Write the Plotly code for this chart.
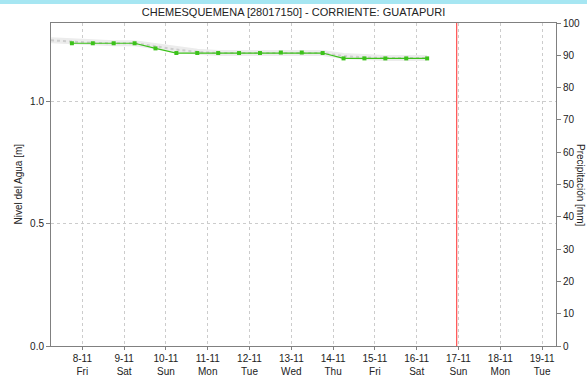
import plotly.graph_objects as go

# nivel observado (cada 12 h)
fechas = ["2024-11-07 18:00", "2024-11-08 06:00", "2024-11-08 18:00", "2024-11-09 06:00",
          "2024-11-09 18:00", "2024-11-10 06:00", "2024-11-10 18:00", "2024-11-11 06:00",
          "2024-11-11 18:00", "2024-11-12 06:00", "2024-11-12 18:00", "2024-11-13 06:00",
          "2024-11-13 18:00", "2024-11-14 06:00", "2024-11-14 18:00", "2024-11-15 06:00",
          "2024-11-15 18:00", "2024-11-16 06:00"]
nivel = [1.240, 1.240, 1.240, 1.240, 1.219, 1.200, 1.200, 1.200, 1.200,
         1.200, 1.202, 1.202, 1.200, 1.178, 1.178, 1.178, 1.178, 1.178]

# nivel de referencia (banda gris)
fechas_ref = ["2024-11-07 06:00"] + fechas
nivel_ref = [1.252, 1.246, 1.242, 1.240, 1.240, 1.228, 1.214, 1.205, 1.200, 1.200,
             1.200, 1.202, 1.202, 1.200, 1.188, 1.182, 1.180, 1.180, 1.180]

dias = ["2024-11-08", "2024-11-09", "2024-11-10", "2024-11-11", "2024-11-12", "2024-11-13",
        "2024-11-14", "2024-11-15", "2024-11-16", "2024-11-17", "2024-11-18", "2024-11-19"]
dias_txt = ["8-11<br>Fri", "9-11<br>Sat", "10-11<br>Sun", "11-11<br>Mon", "12-11<br>Tue",
            "13-11<br>Wed", "14-11<br>Thu", "15-11<br>Fri", "16-11<br>Sat", "17-11<br>Sun",
            "18-11<br>Mon", "19-11<br>Tue"]

ahora = "2024-11-16 23:00"
titulo = "CHEMESQUEMENA [28017150] - CORRIENTE: GUATAPURI"

fuente = "Liberation Sans"

fig = go.Figure()
fig.add_trace(go.Scatter(x=fechas_ref, y=nivel_ref, mode="lines",
                         line=dict(color="#ececec", width=6), hoverinfo="skip", showlegend=False))
fig.add_trace(go.Scatter(x=fechas_ref, y=nivel_ref, mode="lines",
                         line=dict(color="#cdcdcd", width=2, dash="dot"), showlegend=False))
fig.add_trace(go.Scatter(x=fechas, y=nivel, mode="lines+markers",
                         line=dict(color="#3cc21a", width=1.2),
                         marker=dict(color="#3cc21a", size=4, symbol="square"),
                         showlegend=False))
fig.add_trace(go.Scatter(x=[ahora, ahora], y=[0, 100], yaxis="y2", mode="lines",
                         line=dict(color="#ff2a2a", width=1), showlegend=False))

fig.update_layout(
    width=587, height=382,
    margin=dict(l=51, r=31, t=23, b=36),
    paper_bgcolor="white", plot_bgcolor="white",
    font=dict(family=fuente, size=10, color="#222222"),
    title=dict(text=titulo, x=0.5, xanchor="center", y=0.968, yanchor="middle",
               font=dict(family=fuente, size=11, color="#222222")),
    xaxis=dict(type="date", range=["2024-11-07 06:00", "2024-11-19 08:00"], automargin=False,
               tickvals=dias, ticktext=dias_txt, ticks="outside", ticklen=3,
               tickcolor="#808080",
               showgrid=True, gridcolor="#cccccc", griddash="dot", gridwidth=1,
               showline=True, linecolor="#808080", mirror=True, zeroline=False,
               tickfont=dict(size=10)),
    yaxis=dict(range=[0, 1.323], tickvals=[0, 0.5, 1.0], ticktext=["0.0", "0.5", "1.0"],
               automargin=False,
               ticks="outside", ticklen=4, tickcolor="#808080",
               showgrid=True, gridcolor="#cccccc", griddash="dot",
               showline=True, linecolor="#808080", zeroline=False),
    yaxis2=dict(range=[0, 100], overlaying="y", side="right", tickvals=list(range(0, 101, 10)),
                automargin=False,
                ticks="outside", ticklen=4, tickcolor="#808080",
                showgrid=False, showline=True, linecolor="#808080", zeroline=False),
)

fig.add_annotation(text="Nivel del Agua [m]", xref="paper", yref="paper",
                   x=-33 / 505, y=0.5, xanchor="center", yanchor="middle",
                   textangle=-90, showarrow=False, font=dict(size=10))
fig.add_annotation(text="Precipitación [mm]", xref="paper", yref="paper",
                   x=1.0 + 17 / 505, y=0.5, xanchor="left", yanchor="middle",
                   textangle=90, showarrow=False, font=dict(size=10))

# franja celeste superior
fig.add_shape(type="rect", xref="paper", yref="paper", x0=-0.2, x1=1.2,
              y0=1 + 19 / 324, y1=1 + 23 / 324, fillcolor="#a6e6f2", line=dict(width=0),
              layer="above")

# sin margen del body para que la figura ocupe la ventana
fig.write_html("out.html", config={"displayModeBar": False},
               post_script="document.body.style.margin='0';")
